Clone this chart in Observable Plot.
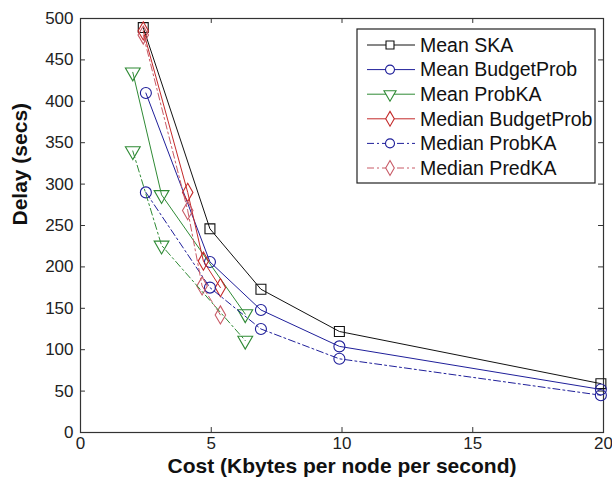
<!DOCTYPE html>
<html><head><meta charset="utf-8">
<script src="https://cdn.jsdelivr.net/npm/d3@7"></script>
<script src="https://cdn.jsdelivr.net/npm/@observablehq/plot@0.6"></script>
<style>
body{margin:0;background:#fff;}
#chart svg{font-family:"Liberation Sans",Arial,sans-serif;background:#fff;}
</style></head><body><div id="chart"></div>
<script>
// ---- data ----
const xTicks = [0, 5, 10, 15, 20];
const yTicks = [0, 50, 100, 150, 200, 250, 300, 350, 400, 450, 500];

const meanSKA_x = [2.4, 4.95, 6.9, 9.9, 19.9];
const meanSKA_y = [489, 246, 173, 122, 59];

const meanBudgetProb_x = [2.5, 4.95, 6.9, 9.9, 19.9];
const meanBudgetProb_y = [410, 206, 148, 104, 52];

const meanProbKA_x = [2.0, 3.1, 6.3];
const meanProbKA_y = [435, 287, 143];

const medianBudgetProb_x = [2.4, 4.1, 4.7, 5.35];
const medianBudgetProb_y = [485, 290, 207, 175];

const medianProbKA_x = [2.5, 4.95, 6.9, 9.9, 19.9];
const medianProbKA_y = [290, 175, 125, 89, 45];

const medianPredKA_x = [2.4, 4.1, 4.65, 5.35];
const medianPredKA_y = [480, 268, 177, 142];

// series drawn in the figure but absent from its legend
const extraProbKA_x = [2.0, 3.1, 6.3];
const extraProbKA_y = [340, 226, 111];

const seriesNames = ["Mean SKA", "Mean BudgetProb", "Mean ProbKA", "Median BudgetProb", "Median ProbKA", "Median PredKA", null];
const seriesColors = ["#111111", "#1f1f9a", "#2f8a35", "#c42a2a", "#1f1f9a", "#c85a66", "#2f8a35"];
const seriesSymbols = ["square", "circle", "triangle", "diamond", "circle", "diamond", "triangle"];
const seriesRotate = [0, 0, 180, 0, 0, 0, 180];
const seriesDash = [null, null, null, null, "7,3,2,3", "7,3,2,3", "7,3,2,3"];
const seriesX = [meanSKA_x, meanBudgetProb_x, meanProbKA_x, medianBudgetProb_x, medianProbKA_x, medianPredKA_x, extraProbKA_x];
const seriesY = [meanSKA_y, meanBudgetProb_y, meanProbKA_y, medianBudgetProb_y, medianProbKA_y, medianPredKA_y, extraProbKA_y];
const markerR = [5.6, 5.5, 5.5, 5.5, 5.5, 5.5, 5.5];

const series = seriesX.map((xs, i) => xs.map((x, j) => ({x, y: seriesY[i][j], s: i})));

const marks = [];
series.forEach((data, i) => {
  marks.push(Plot.line(data, {x: "x", y: "y", stroke: seriesColors[i], strokeWidth: 1, strokeDasharray: seriesDash[i]}));
  marks.push(Plot.dot(data, {x: "x", y: "y", stroke: seriesColors[i], fill: "none", symbol: seriesSymbols[i], r: markerR[i], rotate: seriesRotate[i], strokeWidth: 1.1}));
});

// inward tick length, expressed as a fraction of each domain (MATLAB style ticks)
const xDomain = [0, 20], yDomain = [0, 500];
const tx = (xDomain[1] - xDomain[0]) * 0.0095;
const ty = (yDomain[1] - yDomain[0]) * 0.012;

const plot = Plot.plot({
  width: 612,
  height: 483,
  marginLeft: 80,
  marginRight: 9,
  marginTop: 18,
  marginBottom: 51,
  style: {background: "#fff", fontFamily: "Liberation Sans, Arial, sans-serif"},
  x: {domain: xDomain},
  y: {domain: yDomain},
  marks: [
    Plot.axisX(xTicks, {tickSize: 0, tickPadding: 4, fontSize: 17, label: null, color: "#222"}),
    Plot.axisY(yTicks, {tickSize: 0, tickPadding: 7, fontSize: 17, label: null, color: "#222"}),
    Plot.ruleX(xTicks, {x: d => d, y1: yDomain[0], y2: yDomain[0] + ty, stroke: "#333"}),
    Plot.ruleX(xTicks, {x: d => d, y1: yDomain[1] - ty, y2: yDomain[1], stroke: "#333"}),
    Plot.ruleY(yTicks, {y: d => d, x1: xDomain[0], x2: xDomain[0] + tx, stroke: "#333"}),
    Plot.ruleY(yTicks, {y: d => d, x1: xDomain[1] - tx, x2: xDomain[1], stroke: "#333"}),
    Plot.frame({stroke: "#333", strokeWidth: 1.2}),
    ...marks,
    Plot.text(["Cost (Kbytes per node per second)"], {frameAnchor: "bottom", dy: 40, fontSize: 21, fontWeight: "bold", fill: "#111"}),
    Plot.text(["Delay (secs)"], {frameAnchor: "left", dx: -60, rotate: -90, fontSize: 21, fontWeight: "bold", fill: "#111"})
  ]
});
document.getElementById("chart").appendChild(plot);

// ---- legend (inside the plot area, top right) ----
const svg = d3.select(plot);
const lg = svg.append("g").attr("class", "legend").attr("text-anchor", "start");
const lx = 357, ly = 29, lw = 238, lh = 154, rowH = 24.6;
lg.append("rect").attr("x", lx).attr("y", ly).attr("width", lw).attr("height", lh)
  .attr("fill", "#fff").attr("stroke", "#222").attr("stroke-width", 1.2);
seriesNames.forEach((name, i) => {
  if (!name) return;
  const cy = ly + 16 + i * rowH;
  lg.append("line").attr("x1", lx + 10).attr("x2", lx + 58).attr("y1", cy).attr("y2", cy)
    .attr("stroke", seriesColors[i]).attr("stroke-width", 1)
    .attr("stroke-dasharray", seriesDash[i]);
  const symType = {square: d3.symbolSquare, circle: d3.symbolCircle, triangle: d3.symbolTriangle, diamond: d3.symbolDiamond}[seriesSymbols[i]];
  lg.append("path").attr("d", d3.symbol(symType, Math.PI * 4.5 * 4.5)())
    .attr("transform", `translate(${lx + 33},${cy}) rotate(${seriesRotate[i]})`)
    .attr("fill", "#fff").attr("stroke", seriesColors[i]).attr("stroke-width", 1.1);
  lg.append("text").attr("x", lx + 63).attr("y", cy).attr("dy", "0.35em")
    .attr("text-anchor", "start")
    .attr("font-size", 19.5).attr("fill", "#111").text(name);
});
</script>
</body></html>
